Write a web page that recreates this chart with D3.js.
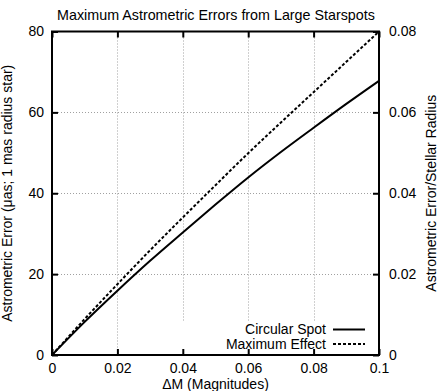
<!DOCTYPE html>
<html>
<head>
<meta charset="utf-8">
<script src="https://cdn.jsdelivr.net/npm/d3@7"></script>
<style>
  body { margin: 0; background: #fff; }
  text { font-family: "Liberation Sans", Arial, sans-serif; fill: #000; }
</style>
</head>
<body>
<svg id="chart" width="438" height="391"></svg>
<script>
// values
var deltaM = [0, 0.01, 0.02, 0.03, 0.04, 0.05, 0.06, 0.07, 0.08, 0.09, 0.1];
var circularSpot = [0, 8.2, 15.9, 23.3, 30.3, 37.2, 43.9, 50.2, 56.2, 62.1, 67.8];
var maximumEffect = [0, 8.9, 17.5, 25.9, 34.0, 42.0, 49.9, 57.5, 65.0, 72.5, 80.0];

var xTicks = [0, 0.02, 0.04, 0.06, 0.08, 0.1];
var xTickLabels = ["0", "0.02", "0.04", "0.06", "0.08", "0.1"];
var yTicks = [0, 20, 40, 60, 80];
var y2Ticks = [0, 0.02, 0.04, 0.06, 0.08];
var y2TickLabels = ["0", "0.02", "0.04", "0.06", "0.08"];

var legendNames = ["Circular Spot", "Maximum Effect"];

var plotL = 52, plotR = 379, plotT = 31.5, plotB = 355;

var svg = d3.select("#chart");

var x = d3.scaleLinear().domain([0, 0.1]).range([plotL, plotR]);
var y = d3.scaleLinear().domain([0, 80]).range([plotB, plotT]);
var y2 = d3.scaleLinear().domain([0, 0.08]).range([plotB, plotT]);

// legend box area blanks the grid (gnuplot style)
var keyBox = { x0: 150, y0: 321 };

// grid
var grid = svg.append("g")
    .attr("stroke", "#a0a0a0")
    .attr("stroke-width", 1)
    .attr("stroke-dasharray", "1,2");

grid.selectAll("line.v")
    .data(xTicks.slice(1, -1))
    .enter().append("line")
    .attr("x1", function (d) { return Math.round(x(d)) + 0.5; })
    .attr("x2", function (d) { return Math.round(x(d)) + 0.5; })
    .attr("y1", plotT)
    .attr("y2", function (d) { return x(d) > keyBox.x0 ? keyBox.y0 : plotB; });

grid.selectAll("line.h")
    .data(yTicks.slice(1, -1))
    .enter().append("line")
    .attr("x1", plotL)
    .attr("x2", plotR)
    .attr("y1", function (d) { return Math.round(y(d)) + 0.5; })
    .attr("y2", function (d) { return Math.round(y(d)) + 0.5; });

// axes, ticks pointing inward on all four sides
svg.append("g")
    .attr("transform", "translate(0," + plotB + ")")
    .call(d3.axisBottom(x).tickValues(xTicks).tickSize(-6).tickPadding(8)
        .tickFormat(function (d, i) { return xTickLabels[i]; }));

svg.append("g")
    .attr("transform", "translate(0," + plotT + ")")
    .call(d3.axisTop(x).tickValues(xTicks).tickSize(-6).tickFormat(""));

svg.append("g")
    .attr("transform", "translate(" + plotL + ",0)")
    .call(d3.axisLeft(y).tickValues(yTicks).tickSize(-6).tickPadding(8).tickFormat(d3.format("d")));

svg.append("g")
    .attr("transform", "translate(" + plotR + ",0)")
    .call(d3.axisRight(y2).tickValues(y2Ticks).tickSize(-6).tickPadding(10)
        .tickFormat(function (d, i) { return y2TickLabels[i]; }));

svg.selectAll(".domain").remove();
svg.selectAll(".tick line").attr("stroke", "#000").attr("stroke-width", 2);
svg.selectAll(".tick text").style("font-size", "14px").attr("font-family", null);

// frame
svg.append("rect")
    .attr("x", plotL).attr("y", plotT)
    .attr("width", plotR - plotL).attr("height", plotB - plotT)
    .attr("fill", "none").attr("stroke", "#000").attr("stroke-width", 2);

// curves
var line = d3.line()
    .x(function (d) { return x(d[0]); })
    .y(function (d) { return y(d[1]); })
    .curve(d3.curveMonotoneX);

svg.append("path")
    .datum(d3.zip(deltaM, circularSpot))
    .attr("d", line)
    .attr("fill", "none").attr("stroke", "#000").attr("stroke-width", 2);

svg.append("path")
    .datum(d3.zip(deltaM, maximumEffect))
    .attr("d", line)
    .attr("fill", "none").attr("stroke", "#000").attr("stroke-width", 2)
    .attr("stroke-dasharray", "3,2");

// legend
var key = svg.append("g");
legendNames.forEach(function (name, i) {
    var ky = 329.5 + i * 14.5;
    key.append("text")
        .attr("x", 326).attr("y", ky)
        .attr("dy", "0.35em")
        .attr("text-anchor", "end")
        .style("font-size", "14px")
        .text(name);
    key.append("line")
        .attr("x1", 333).attr("x2", 365)
        .attr("y1", ky).attr("y2", ky)
        .attr("stroke", "#000").attr("stroke-width", 2)
        .attr("stroke-dasharray", i === 1 ? "3,2" : null);
});

// titles
svg.append("text")
    .attr("x", 216).attr("y", 20)
    .attr("text-anchor", "middle")
    .style("font-size", "14.3px")
    .text("Maximum Astrometric Errors from Large Starspots");

svg.append("text")
    .attr("x", (plotL + plotR) / 2).attr("y", 389)
    .attr("text-anchor", "middle")
    .style("font-size", "14px")
    .text("\u0394M (Magnitudes)");

svg.append("text")
    .attr("transform", "translate(12," + (plotT + plotB) / 2 + ") rotate(-90)")
    .attr("text-anchor", "middle")
    .style("font-size", "14px")
    .text("Astrometric Error (\u03bcas; 1 mas radius star)");

svg.append("text")
    .attr("transform", "translate(436," + (plotT + plotB) / 2 + ") rotate(-90)")
    .attr("text-anchor", "middle")
    .style("font-size", "14px")
    .text("Astrometric Error/Stellar Radius");
</script>
</body>
</html>
